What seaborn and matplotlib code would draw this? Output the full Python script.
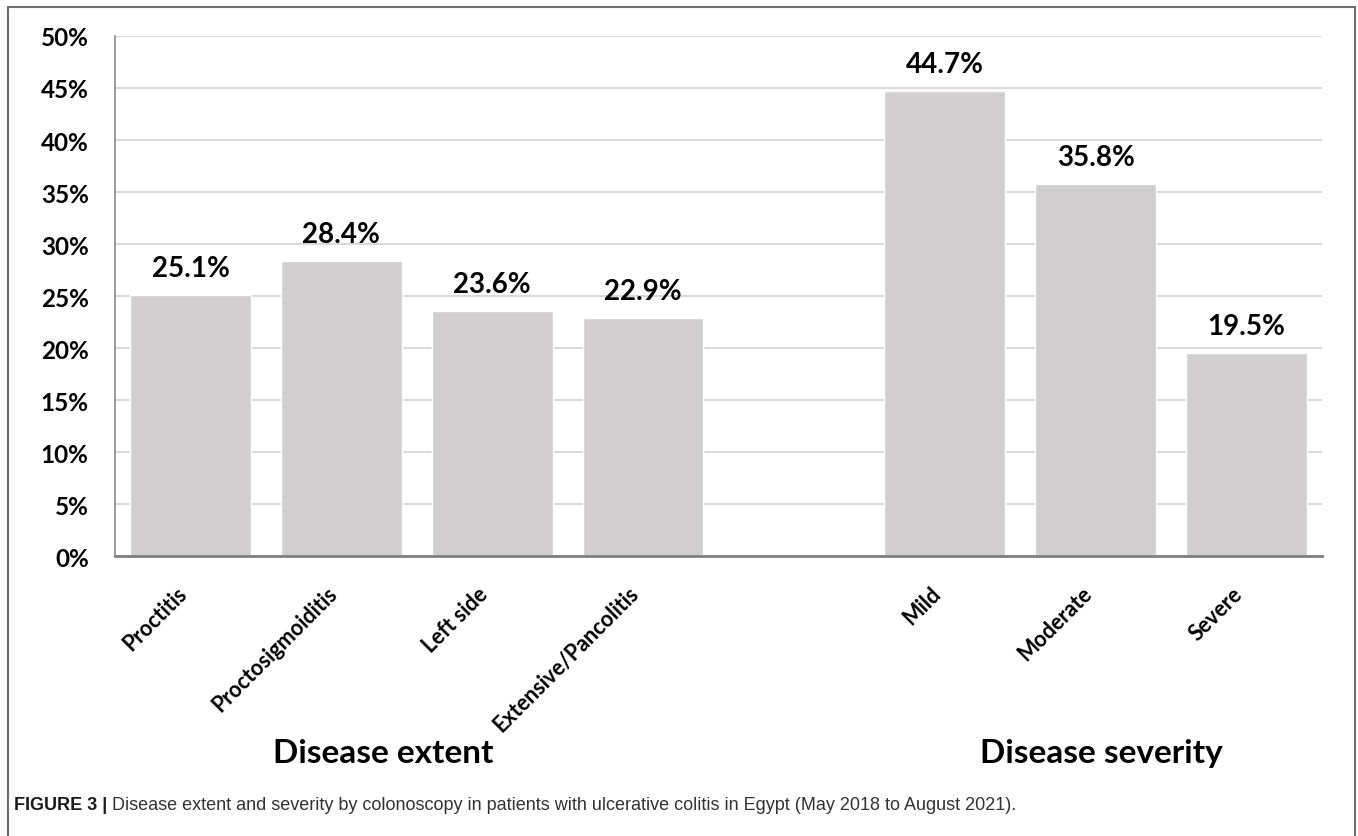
import matplotlib
matplotlib.use("Agg")
import matplotlib.pyplot as plt
import seaborn as sns
import pandas as pd
from matplotlib.lines import Line2D

# chart values
extent_labels = ["Proctitis", "Proctosigmoiditis", "Left side", "Extensive/Pancolitis"]
extent_values = [25.1, 28.4, 23.6, 22.9]
severity_labels = ["Mild", "Moderate", "Severe"]
severity_values = [44.7, 35.8, 19.5]
y_ticks = [0, 5, 10, 15, 20, 25, 30, 35, 40, 45, 50]
caption_bold = "FIGURE 3 |"
caption_text = " Disease extent and severity by colonoscopy in patients with ulcerative colitis in Egypt (May 2018 to August 2021)."

gap = " "
order = extent_labels + [gap] + severity_labels
df = pd.DataFrame({
    "category": extent_labels + severity_labels,
    "value": extent_values + severity_values,
})

sns.set_style("white")
plt.rcParams['font.family'] = ['Lato', 'DejaVu Sans']
plt.rcParams['text.color'] = 'black'
plt.rcParams['xtick.color'] = 'black'
plt.rcParams['ytick.color'] = 'black'

fig = plt.figure(figsize=(13.58, 8.37), dpi=100)
ax = fig.add_axes([0.0847, 0.3345, 0.8888, 0.6213])

sns.barplot(data=df, x="category", y="value", order=order, color="#D0CECE",
            width=0.8, saturation=1, ax=ax, zorder=2)

ax.set_ylim(0, 50)
ax.set_xlim(-0.5, len(order) - 0.5)
ax.set_yticks(y_ticks)
ax.set_yticklabels([f"{t}%" for t in y_ticks], fontsize=17.5, fontweight="bold")
ax.yaxis.grid(True, color="#D9D9D9", linewidth=1.5, zorder=0)
ax.set_axisbelow(True)
ax.tick_params(axis="y", length=0, pad=19)
ax.tick_params(axis="x", length=0, pad=19)
ax.set_xticks(range(len(order)))
ax.set_xticklabels(order, rotation=45, ha="right", va="top",
                   fontsize=15.5, fontweight="bold")
ax.set_xlabel("")
ax.set_ylabel("")
for s in ["top", "right"]:
    ax.spines[s].set_visible(False)
ax.spines["left"].set_color("#8C8C8C")
ax.spines["left"].set_linewidth(1.2)
ax.spines["bottom"].set_color("#7F7F7F")
ax.spines["bottom"].set_linewidth(2)

for cont in ax.containers:
    ax.bar_label(cont, labels=[f"{v:.1f}%" for v in cont.datavalues],
                 padding=10, fontsize=20, fontweight="bold")

fig.text(383 / 1358, 1 - 763 / 837, "Disease extent", ha="center", va="baseline",
         fontsize=24, fontweight="bold")
fig.text(1101 / 1358, 1 - 763 / 837, "Disease severity", ha="center", va="baseline",
         fontsize=24, fontweight="bold")

# figure frame (left, top, right)
fc = "#6E6E6E"
fig.add_artist(Line2D([7.5 / 1358, 7.5 / 1358], [0, 1 - 8 / 837], transform=fig.transFigure, color=fc, lw=1.5))
fig.add_artist(Line2D([7.5 / 1358, 1355 / 1358], [1 - 8 / 837, 1 - 8 / 837], transform=fig.transFigure, color=fc, lw=1.5))
fig.add_artist(Line2D([1355 / 1358, 1355 / 1358], [0, 1 - 8 / 837], transform=fig.transFigure, color=fc, lw=1.5))

# caption
cap_family = ['Liberation Sans Narrow', 'Liberation Sans', 'DejaVu Sans']
t1 = fig.text(14 / 1358, 1 - 810 / 837, caption_bold, ha="left", va="baseline",
              fontsize=13, fontweight="bold", family=cap_family, color="#1a1a1a")
renderer = fig.canvas.get_renderer()
bb = t1.get_window_extent(renderer=renderer)
fig.text(bb.x1 / fig.bbox.width, 1 - 810 / 837, caption_text, ha="left", va="baseline",
         fontsize=13, family=cap_family, color="#333333")

fig.savefig("out.png", dpi=100)
